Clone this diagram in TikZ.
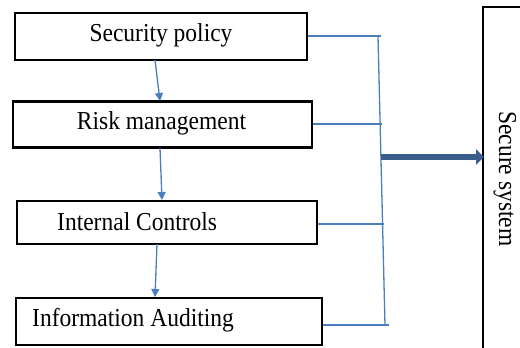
\documentclass[tikz,border=0pt]{standalone}
\usepackage{fontspec}
\setmainfont{Liberation Serif}
\usetikzlibrary{arrows.meta}
\definecolor{linkblue}{HTML}{4A7EBF}
\definecolor{mainblue}{HTML}{3A5E8C}
\newcommand{\tallword}[1]{\scalebox{1}[1.1]{#1}}
\begin{document}
\begin{tikzpicture}[x=1pt,y=-1pt,
  stagebox/.style={draw=black,line width=2.5pt,fill=white,inner sep=0pt},
  label/.style={font=\fontsize{23.5}{26}\selectfont,inner sep=0pt},
  flow/.style={draw=linkblue,line width=1.3pt,-{Triangle[length=8pt,width=8pt]}},
  branch/.style={draw=linkblue,line width=1.3pt}]
\clip (0,0) rectangle (520,348);
\fill[white] (0,0) rectangle (520,348);
% stage boxes
\node[stagebox,minimum width=292pt,minimum height=47pt] (sp) at (161,36.5) {};
\node[stagebox,minimum width=299pt,minimum height=46pt] (rm) at (162.5,124.5) {};
\node[stagebox,minimum width=300pt,minimum height=43pt] (ic) at (167,222.5) {};
\node[stagebox,minimum width=306pt,minimum height=47pt] (ia) at (169,321.5) {};
% secure system box, open to the right and below
\draw[black,line width=2.5pt] (540,7) -- (483,7) -- (483,360);
\node[label,rotate=-90] (ss) at (505,179) {\tallword{Secure system}};
% labels
\node[label] (tsp) at (161,35) {\tallword{Security policy}};
\node[label] (trm) at (161.5,123) {\tallword{Risk management}};
\node[label,anchor=west] (tic) at (57,222) {\tallword{Internal Controls}};
\node[label,anchor=west] (tia) at (32,320) {\tallword{Information Auditing}};
% downward flow
\coordinate (a1) at (155,60);   \coordinate (b1) at (160,101);
\coordinate (a2) at (160,148);  \coordinate (b2) at (162,200);
\coordinate (a3) at (157,244);  \coordinate (b3) at (155,297);
\draw[flow] (a1) -- (b1);
\draw[flow] (a2) -- (b2);
\draw[flow] (a3) -- (b3);
% collecting bus
\coordinate (j1) at (378,36);
\coordinate (j4) at (385,325);
\draw[branch] (j1) -- (j4);
\draw[branch] (sp.east |- 0,36) -- (381,36);
\draw[branch] (rm.east |- 0,124) -- (382,124);
\draw[branch] (ic.east |- 0,224) -- (384,224);
\draw[branch] (ia.east |- 0,325) -- (389,325);
% main arrow to the secure system
\coordinate (m) at (381,157);
\draw[mainblue,line width=5.5pt,-{Triangle[length=8pt,width=15pt]}] (m) -- (484,157);
\end{tikzpicture}
\end{document}
